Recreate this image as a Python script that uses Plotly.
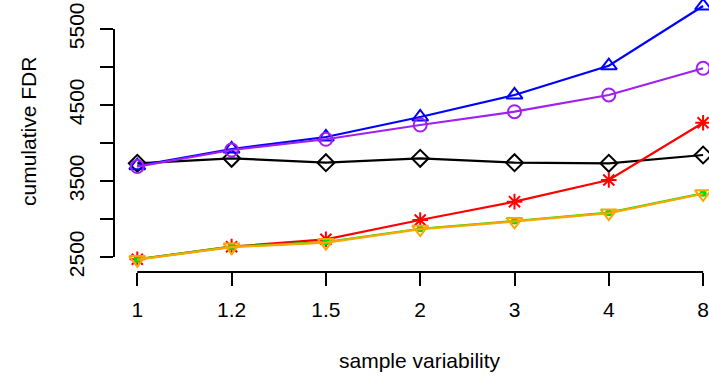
import plotly.graph_objects as go

# ---- data ----
x_labels = ["1", "1.2", "1.5", "2", "3", "4", "8"]
x_pos = [1, 2, 3, 4, 5, 6, 7]

black_vals = [3733, 3799, 3741, 3799, 3741, 3733, 3842]
blue_vals = [3701, 3921, 4079, 4342, 4632, 5017, 5803]
purple_vals = [3690, 3908, 4049, 4237, 4412, 4632, 4983]
red_vals = [2470, 2636, 2733, 2987, 3228, 3513, 4267]
green_vals = [2470, 2636, 2697, 2872, 2974, 3083, 3338]
orange_vals = [2466, 2630, 2690, 2866, 2968, 3078, 3332]

y_ticks = [2500, 3000, 3500, 4000, 4500, 5000, 5500]
y_ticktext = ["2500", "", "3500", "", "4500", "", "5500"]

# ---- layout geometry ----
W, H = 709, 379
ML, MB, MT, MR = 114, 107, 0, 0
px_per_x = 94.3
x1_px = 137.3
px_per_y = 0.076
y2500_px = 257  # pixel row of y=2500 (from top)

plot_w = W - ML - MR
plot_h = H - MT - MB
x_lo = 1 - (x1_px - ML) / px_per_x
x_hi = x_lo + plot_w / px_per_x
y_lo = 2500 - ((H - MB) - y2500_px) / px_per_y
y_hi = y_lo + plot_h / px_per_y

FONT = "Liberation Sans, Arial, Helvetica, sans-serif"

series = [
    ("black", black_vals, "#000000", dict(symbol="diamond-open", size=13)),
    ("blue", blue_vals, "#0000FF", dict(symbol="triangle-up-open", size=14)),
    ("purple", purple_vals, "#A020F0", dict(symbol="circle-open", size=13)),
    ("red", red_vals, "#FF0000", dict(symbol="asterisk-open", size=13)),
    ("green", green_vals, "#00E000", dict(symbol="circle", size=7)),
    ("orange", orange_vals, "#FFA500", dict(symbol="triangle-down-open", size=14)),
]

fig = go.Figure()
for name, vals, col, mk in series:
    marker = dict(color=col, line=dict(color=col, width=2), **mk)
    if mk["symbol"] == "circle":
        marker["line"] = dict(width=0)
    fig.add_trace(go.Scatter(
        x=x_pos, y=vals, mode="lines+markers", name=name,
        line=dict(color=col, width=2.2),
        marker=marker, cliponaxis=False, showlegend=False,
    ))

# R-style axis lines spanning only the tick range
fig.add_shape(type="line", xref="x", yref="paper",
              x0=x_pos[0], x1=x_pos[-1], y0=0, y1=0,
              line=dict(color="black", width=2))
fig.add_shape(type="line", xref="paper", yref="y",
              x0=0, x1=0, y0=y_ticks[0], y1=y_ticks[-1],
              line=dict(color="black", width=2))

fig.update_xaxes(
    range=[x_lo, x_hi], tickvals=x_pos, ticktext=x_labels,
    ticks="outside", ticklen=13, tickwidth=2, tickcolor="black",
    showline=False, showgrid=False, zeroline=False, ticklabelstandoff=6,
    tickfont=dict(family=FONT, size=21, color="black"),
)
fig.update_yaxes(
    range=[y_lo, y_hi], tickvals=y_ticks, ticktext=y_ticktext,
    ticks="outside", ticklen=13, tickwidth=2, tickcolor="black",
    showline=False, showgrid=False, zeroline=False, tickangle=-90,
    ticklabelstandoff=8,
    tickfont=dict(family=FONT, size=21, color="black"),
)

fig.add_annotation(text="sample variability", xref="paper", yref="paper",
                   x=((x1_px + px_per_x * 3) - ML) / plot_w, y=-(360 - (H - MB)) / plot_h,
                   showarrow=False, xanchor="center", yanchor="middle",
                   font=dict(family=FONT, size=21, color="black"))
fig.add_annotation(text="cumulative FDR", xref="paper", yref="paper",
                   x=-(ML - 28) / plot_w, y=1 - 131 / plot_h, textangle=-90,
                   showarrow=False, xanchor="center", yanchor="middle",
                   font=dict(family=FONT, size=21, color="black"))

fig.update_layout(
    width=W, height=H,
    margin=dict(l=ML, r=MR, t=MT, b=MB, pad=0, autoexpand=False),
    paper_bgcolor="white", plot_bgcolor="white",
)

fig.write_html(
    "out.html",
    config={"displayModeBar": False},
    post_script="document.body.style.margin='0';document.body.style.overflow='hidden';",
)
